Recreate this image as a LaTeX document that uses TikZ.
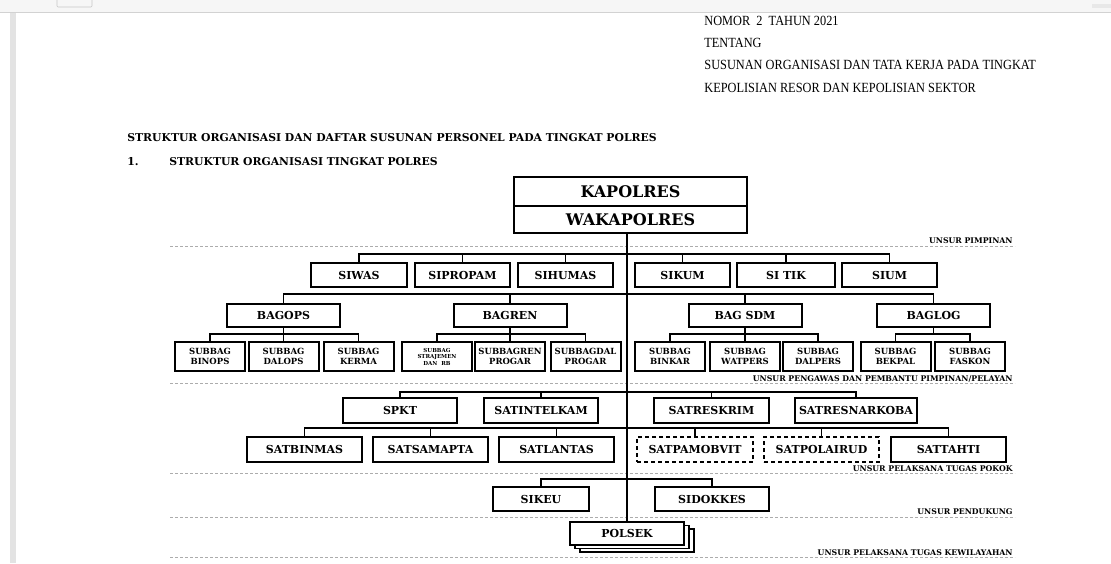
\documentclass[tikz,border=0pt]{standalone}
\usepackage{fontspec}
\setmainfont{DejaVu Serif}
\newfontfamily\headfont[FakeStretch=0.88]{Liberation Serif}
\usepackage{tikz}
\usetikzlibrary{positioning, calc, shadows}
\tikzset{every picture/.append style={thick}}
\tikzset{
  unitbox/.style={draw, line width=2pt, fill=white, inner sep=0pt,
    font=\bfseries\fontsize{11}{12}\selectfont, minimum height=24pt, minimum width=96pt},
  subbox/.style={unitbox, align=center, minimum height=29pt, minimum width=70pt,
    font=\bfseries\fontsize{8.5}{10}\selectfont},
  optbox/.style={unitbox, dash pattern=on 4pt off 3pt},
  link/.style={line width=1.8pt},
  sepline/.style={draw=gray!65, line width=0.9pt, dash pattern=on 3pt off 2pt},
  seplabel/.style={font=\bfseries\fontsize{7.8}{8.5}\selectfont, anchor=base east, inner sep=0pt},
  headline/.style={font=\headfont\fontsize{14}{15}\selectfont, anchor=base west, inner sep=0pt},
  titleline/.style={font=\bfseries\fontsize{10.8}{12}\selectfont, anchor=base west, inner sep=0pt},
}

\begin{document}
\begin{tikzpicture}[x=1pt, y=-1pt]
    \useasboundingbox (0,0) rectangle (1111,563);

    % Viewer frame
    \fill[gray!7] (0,0) rectangle (1111,12);
    \draw[gray!35, line width=0.8pt] (0,12.5) -- (1111,12.5);
    \fill[gray!22] (10,13) rectangle (16,563);
    \draw[gray!45, line width=0.6pt, rounded corners=1pt] (57,0) -- (57,7) -- (92,7) -- (92,0);
    \fill[gray!18] (1092,4) rectangle (1111,8);

    % Header
    \node[headline] (nomor) at (704,25) {NOMOR\ \ 2\ \ TAHUN 2021};
    \node[headline] (tentang) at (704,47) {TENTANG};
    \node[headline] (susunan) at (704,69) {SUSUNAN\ ORGANISASI\ DAN\ TATA\ KERJA\ PADA\ TINGKAT};
    \node[headline] (kepolisian) at (704,92) {KEPOLISIAN RESOR DAN KEPOLISIAN SEKTOR};

    % Titles
    \node[titleline] (title) at (127,141) {STRUKTUR ORGANISASI DAN DAFTAR SUSUNAN PERSONEL PADA TINGKAT POLRES};
    \node[titleline] (num) at (127,165) {1.};
    \node[titleline] (subtitle) at (169,165) {STRUKTUR ORGANISASI TINGKAT POLRES};

    % Separators
    \draw[sepline] (170,246) -- (1015,246);
    \draw[sepline] (170,383) -- (1015,383);
    \draw[sepline] (170,473) -- (1015,473);
    \draw[sepline] (170,517) -- (1015,517);
    \draw[sepline] (170,557) -- (1015,557);
    \node[seplabel] (pimpinan) at (1013,243) {UNSUR PIMPINAN};
    \node[seplabel] (pengawas) at (1013,381) {UNSUR PENGAWAS DAN PEMBANTU PIMPINAN/PELAYAN};
    \node[seplabel] (pokok) at (1013,471) {UNSUR PELAKSANA TUGAS POKOK};
    \node[seplabel] (pendukung) at (1013,514) {UNSUR PENDUKUNG};
    \node[seplabel] (wilayah) at (1013,555) {UNSUR PELAKSANA TUGAS KEWILAYAHAN};

    % Pimpinan
    \node[unitbox, minimum width=233pt, minimum height=29pt, font=\bfseries\fontsize{16}{18}\selectfont] (kapolres) at (630.5,191.5) {KAPOLRES};
    \node[unitbox, minimum width=233pt, minimum height=27pt, font=\bfseries\fontsize{16}{18}\selectfont] (wakapolres) at (630.5,219.5) {WAKAPOLRES};

    % Kewilayahan and trunk
    \node[unitbox, minimum width=114pt, minimum height=23pt,
      general shadow={shadow xshift=10pt, shadow yshift=-7pt, fill=white, draw=black, line width=1.6pt},
      general shadow={shadow xshift=5pt, shadow yshift=-3.5pt, fill=white, draw=black, line width=1.6pt}] (polsek) at (627,533.5) {POLSEK};
    \draw[link] (polsek.north |- wakapolres.south) -- (polsek.north);

    % Row of SI units
    \node[unitbox] (siwas) at (359,275) {SIWAS};
    \node[unitbox, minimum width=95pt] (sipropam) at (462.5,275) {SIPROPAM};
    \node[unitbox, minimum width=95pt] (sihumas) at (565.5,275) {SIHUMAS};
    \node[unitbox, minimum width=95pt] (sikum) at (682.5,275) {SIKUM};
    \node[unitbox, minimum width=98pt] (sitik) at (786,275) {SI TIK};
    \node[unitbox, minimum width=95pt] (sium) at (889.5,275) {SIUM};
    \coordinate (busa) at (627,254);
    \draw[link] (siwas.north) |- (sium.north |- busa) -- (sium.north);
    \draw[link] (sipropam.north) -- (sipropam.north |- busa) (sihumas.north) -- (sihumas.north |- busa)
      (sikum.north) -- (sikum.north |- busa) (sitik.north) -- (sitik.north |- busa);

    % Row of BAG units
    \node[unitbox, minimum width=113pt, minimum height=23pt] (bagops) at (283.5,315.5) {BAGOPS};
    \node[unitbox, minimum width=113pt, minimum height=23pt] (bagren) at (510,315.5) {BAGREN};
    \node[unitbox, minimum width=113pt, minimum height=23pt] (bagsdm) at (745,315.5) {BAG SDM};
    \node[unitbox, minimum width=113pt, minimum height=23pt] (baglog) at (933.5,315.5) {BAGLOG};
    \coordinate (busb) at (627,294);
    \draw[link] (bagops.north) |- (baglog.north |- busb) -- (baglog.north);
    \draw[link] (bagren.north) -- (bagren.north |- busb) (bagsdm.north) -- (bagsdm.north |- busb);

    % Subbag under BAGOPS
    \node[subbox] (binops) at (210,356.5) {SUBBAG\\BINOPS};
    \node[subbox] (dalops) at (283.5,356.5) {SUBBAG\\DALOPS};
    \node[subbox] (kerma) at (358.5,356.5) {SUBBAG\\KERMA};
    \draw[link] (binops.north) |- ($(bagops.south)+(0,6)$) -| (kerma.north);
    \draw[link] (bagops.south) -- (dalops.north);

    % Subbag under BAGREN
    \node[subbox, font=\bfseries\fontsize{5.5}{6.5}\selectfont] (strajemen) at (437,356.5) {SUBBAG\\STRAJEMEN\\DAN\ \ RB};
    \node[subbox] (subbagren) at (510,356.5) {SUBBAGREN\\PROGAR};
    \node[subbox] (subbagdal) at (585.5,356.5) {SUBBAGDAL\\PROGAR};
    \draw[link] (strajemen.north) |- ($(bagren.south)+(0,6)$) -| (subbagdal.north);
    \draw[link] (bagren.south) -- (subbagren.north);

    % Subbag under BAG SDM
    \node[subbox] (binkar) at (670,356.5) {SUBBAG\\BINKAR};
    \node[subbox] (watpers) at (745,356.5) {SUBBAG\\WATPERS};
    \node[subbox] (dalpers) at (818,356.5) {SUBBAG\\DALPERS};
    \draw[link] (binkar.north) |- ($(bagsdm.south)+(0,6)$) -| (dalpers.north);
    \draw[link] (bagsdm.south) -- (watpers.north);

    % Subbag under BAGLOG
    \node[subbox] (bekpal) at (895.5,356.5) {SUBBAG\\BEKPAL};
    \node[subbox] (faskon) at (970,356.5) {SUBBAG\\FASKON};
    \draw[link] (bekpal.north) |- ($(baglog.south)+(0,6)$) -| (faskon.north);
    \draw[link] (baglog.south) -- ++(0,6);

    % Pelaksana tugas pokok
    \node[unitbox, minimum width=114pt, minimum height=25pt] (spkt) at (400,410.5) {SPKT};
    \node[unitbox, minimum width=114pt, minimum height=25pt] (satintelkam) at (541,410.5) {SATINTELKAM};
    \node[unitbox, minimum width=115pt, minimum height=25pt] (satreskrim) at (711.5,410.5) {SATRESKRIM};
    \node[unitbox, minimum width=122pt, minimum height=25pt] (satresnarkoba) at (856,410.5) {SATRESNARKOBA};
    \coordinate (busc) at (627,392);
    \draw[link] (spkt.north) |- (satresnarkoba.north |- busc) -- (satresnarkoba.north);
    \draw[link] (satintelkam.north) -- (satintelkam.north |- busc) (satreskrim.north) -- (satreskrim.north |- busc);

    \node[unitbox, minimum width=115pt, minimum height=25pt] (satbinmas) at (304.5,449.5) {SATBINMAS};
    \node[unitbox, minimum width=115pt, minimum height=25pt] (satsamapta) at (430.5,449.5) {SATSAMAPTA};
    \node[unitbox, minimum width=115pt, minimum height=25pt] (satlantas) at (556.5,449.5) {SATLANTAS};
    \node[optbox, minimum width=116pt, minimum height=25pt] (satpamobvit) at (695,449.5) {SATPAMOBVIT};
    \node[optbox, minimum width=115pt, minimum height=25pt] (satpolairud) at (821.5,449.5) {SATPOLAIRUD};
    \node[unitbox, minimum width=115pt, minimum height=25pt] (sattahti) at (948.5,449.5) {SATTAHTI};
    \coordinate (busd) at (627,428);
    \draw[link] (satbinmas.north) |- (sattahti.north |- busd) -- (sattahti.north);
    \draw[link] (satsamapta.north) -- (satsamapta.north |- busd) (satlantas.north) -- (satlantas.north |- busd)
      (satpamobvit.north) -- (satpamobvit.north |- busd) (satpolairud.north) -- (satpolairud.north |- busd);

    % Pendukung
    \node[unitbox, minimum width=96pt] (sikeu) at (541,499) {SIKEU};
    \node[unitbox, minimum width=114pt] (sidokkes) at (712,499) {SIDOKKES};
    \coordinate (buse) at (627,479);
    \draw[link] (sikeu.north) |- (sidokkes.north |- buse) -- (sidokkes.north);
\end{tikzpicture}
\end{document}
